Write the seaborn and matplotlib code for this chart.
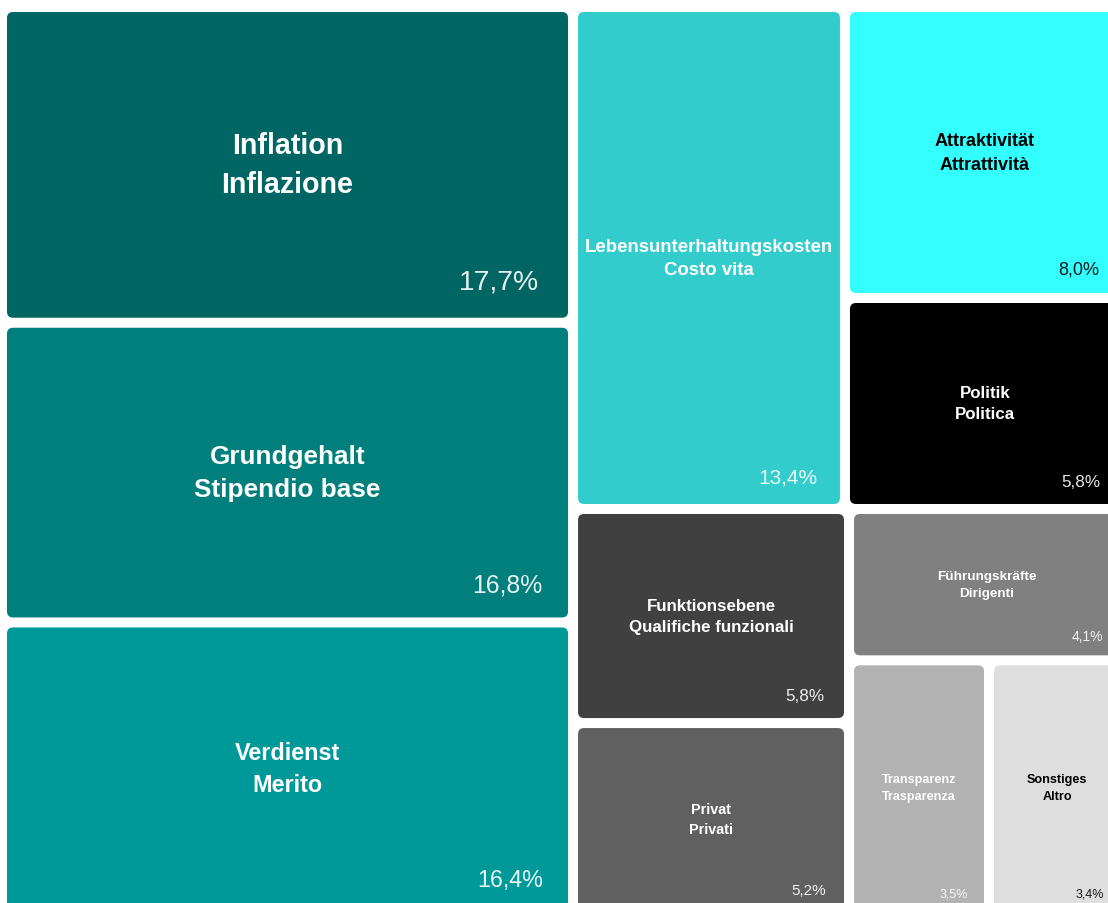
import matplotlib
matplotlib.use("Agg")
import matplotlib.pyplot as plt
from matplotlib.patches import FancyBboxPatch
import seaborn as sns

# Survey shares (percent) and bilingual category names
labels_de = ["Inflation", "Grundgehalt", "Verdienst", "Lebensunterhaltungskosten",
             "Attraktivität", "Politik", "Funktionsebene", "Privat",
             "Führungskräfte", "Transparenz", "Sonstiges"]
labels_it = ["Inflazione", "Stipendio base", "Merito", "Costo vita",
             "Attrattività", "Politica", "Qualifiche funzionali", "Privati",
             "Dirigenti", "Trasparenza", "Altro"]
values = [17.7, 16.8, 16.4, 13.4, 8.0, 5.8, 5.8, 5.2, 4.1, 3.5, 3.4]

# Tile styling
tile_colors = ["#006663", "#007f7d", "#009999", "#33cccc", "#33ffff", "#000000",
               "#404040", "#606060", "#808080", "#b2b2b2", "#dedede"]
text_colors = ["white", "white", "white", "white", "black", "white",
               "white", "white", "white", "white", "black"]
label_sizes = [20.6, 18.8, 16.8, 13.4, 13.0, 12.2, 12.2, 10.4, 9.7, 9.1, 9.1]
pct_sizes = [20.3, 17.8, 16.8, 15.0, 13.0, 12.3, 12.3, 11.0, 10.0, 9.0, 9.0]

# Nesting of the treemap: 'x' splits side by side, 'y' stacks vertically
layout = ("x", [("y", [0, 1, 2]),
                ("y", [("x", [3, ("y", [4, 5])]),
                       ("x", [("y", [6, 7]),
                              ("y", [8, ("x", [9, 10])])])])])


def total(node):
    if isinstance(node, int):
        return values[node]
    return sum(total(c) for c in node[1])


def place(node, x, y, w, h, out):
    if isinstance(node, int):
        out[node] = (x, y, w, h)
        return
    direction, children = node
    s = total(node)
    pos = 0.0
    for c in children:
        f = total(c) / s
        if direction == "x":
            place(c, x + pos * w, y, w * f, h, out)
        else:
            place(c, x, y + pos * h, w, h * f, out)
        pos += f


sns.set_theme(style="white")
plt.rcParams["font.family"] = ["Liberation Sans", "DejaVu Sans"]

fig = plt.figure(figsize=(11.08, 9.04), dpi=100)
ax = fig.add_axes([0, 0, 1, 1])
ax.set_xlim(0, 1108)
ax.set_ylim(904, 0)
ax.axis("off")

rects = {}
place(layout, 2, 8, 1123, 908, rects)

gap = 5
radius = 6
px_per_pt = 100 / 72
for i, (x, y, w, h) in rects.items():
    x0, y0, w0, h0 = x + gap, y + gap, w - 2 * gap, h - 2 * gap
    patch = FancyBboxPatch((x0 + radius, y0 + radius), w0 - 2 * radius, h0 - 2 * radius,
                           boxstyle=f"round,pad={radius}", linewidth=0,
                           facecolor=tile_colors[i])
    ax.add_patch(patch)

    ax.text(x0 + w0 / 2, y0 + h0 / 2, f"{labels_de[i]}\n{labels_it[i]}",
            ha="center", va="center", multialignment="center",
            fontsize=label_sizes[i], fontweight="bold", color=text_colors[i],
            linespacing=1.5)

    fs_px = pct_sizes[i] * px_per_pt
    pct = f"{values[i]:.1f}".replace(".", ",") + "%"
    ax.text(x0 + w0 - (0.8 * fs_px + 6), y0 + h0 - (fs_px + 1), pct,
            ha="right", va="baseline", fontsize=pct_sizes[i],
            color=text_colors[i], alpha=0.9)

fig.savefig("out.png", dpi=100, facecolor="white")
